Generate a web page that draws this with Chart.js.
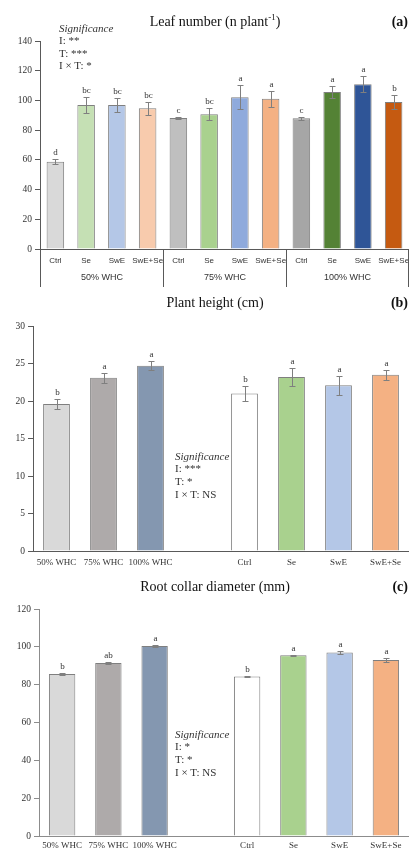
<!DOCTYPE html>
<html>
<head>
<meta charset="utf-8">
<script src="https://cdn.jsdelivr.net/npm/chart.js@4.4.1/dist/chart.umd.min.js"></script>
<style>
  html, body { margin:0; padding:0; background:#ffffff; }
  body { width:409px; height:849px; position:relative; overflow:hidden; }
  canvas { position:absolute; left:0; }
</style>
</head>
<body>
<canvas id="cA" width="409" height="290" style="top:0px"></canvas>
<canvas id="cB" width="409" height="280" style="top:290px"></canvas>
<canvas id="cC" width="409" height="279" style="top:570px"></canvas>
<script>
// ---------- DATA ----------
// Panel (a) Leaf number
const leafCategories = ['Ctrl','Se','SwE','SwE+Se','Ctrl','Se','SwE','SwE+Se','Ctrl','Se','SwE','SwE+Se'];
const leafGroups = ['50% WHC','75% WHC','100% WHC'];
const leafValues = [58.8, 97.0, 97.0, 94.7, 88.2, 90.7, 102.2, 101.2, 88.0, 105.7, 110.9, 99.0];
const leafErrors = [1.7, 5.6, 4.9, 4.3, 0.7, 4.0, 7.9, 5.4, 1.0, 4.0, 5.4, 4.7];
const leafLetters = ['d','bc','bc','bc','c','bc','a','a','c','a','a','b'];
const leafColors = ['#d9d9d9','#c5e0b4','#b4c7e7','#f8cbad','#bfbfbf','#a9d18e','#8faadc','#f4b183','#a6a6a6','#548235','#2f5597','#c55a11'];
const leafTicks = { min: 0, max: 140, step: 20 };
const leafSignificance = ['I: **', 'T: ***', 'I \u00d7 T: *'];

// Panels (b) and (c) share categories
const mainCategories = ['50% WHC','75% WHC','100% WHC','','Ctrl','Se','SwE','SwE+Se'];
const mainColors = ['#d9d9d9','#aeaaaa','#8497b0', null, '#ffffff','#a9d18e','#b4c7e7','#f4b183'];

// Panel (b) Plant height
const heightValues = [19.6, 23.1, 24.7, null, 21.0, 23.2, 22.1, 23.5];
const heightErrors = [0.7, 0.65, 0.6, null, 0.95, 1.2, 1.3, 0.65];
const heightLetters = ['b','a','a','','b','a','a','a'];
const heightTicks = { min: 0, max: 30, step: 5 };
const heightSignificance = ['I: ***', 'T: *', 'I \u00d7 T: NS'];

// Panel (c) Root collar diameter
const diameterValues = [85.6, 91.4, 100.4, null, 84.3, 95.6, 97.0, 93.1];
const diameterErrors = [0.4, 0.7, 0.4, null, 0.4, 0.3, 0.8, 1.0];
const diameterLetters = ['b','ab','a','','b','a','a','a'];
const diameterTicks = { min: 0, max: 120, step: 20 };
const diameterSignificance = ['I: *', 'T: *', 'I \u00d7 T: NS'];

// ---------- STYLE ----------
const SERIF = '"Liberation Serif", "Times New Roman", serif';
const SANS = '"Liberation Sans Narrow", "Liberation Sans", Arial, sans-serif';

// ---------- PLUGINS ----------
const errPlugin = {
  id: 'errs',
  afterDatasetsDraw(chart, args, o) {
    const ctx = chart.ctx, x = chart.scales.x, y = chart.scales.y;
    const vals = chart.data.datasets[0].data;
    ctx.save();
    vals.forEach((v, i) => {
      if (v == null) return;
      const e = o.errors[i];
      const px = Math.round(x.getPixelForValue(i)) + 0.5;
      const top = Math.round(y.getPixelForValue(v + e)) + 0.5;
      const bot = Math.round(y.getPixelForValue(v - e)) + 0.5;
      ctx.strokeStyle = o.color; ctx.lineWidth = 1;
      ctx.beginPath();
      ctx.moveTo(px, top); ctx.lineTo(px, bot);
      ctx.moveTo(px - 3, top); ctx.lineTo(px + 3, top);
      ctx.moveTo(px - 3, bot); ctx.lineTo(px + 3, bot);
      ctx.stroke();
      ctx.fillStyle = '#333333';
      ctx.font = '9px ' + SERIF;
      ctx.textAlign = 'center'; ctx.textBaseline = 'bottom';
      ctx.fillText(o.letters[i], px, top - 2);
    });
    ctx.restore();
  }
};

const annotPlugin = {
  id: 'annot',
  afterDraw(chart, args, o) {
    const ctx = chart.ctx;
    ctx.save();
    ctx.fillStyle = '#111111';
    ctx.textBaseline = 'middle';
    ctx.font = '14px ' + SERIF;
    const w1 = ctx.measureText(o.title).width;
    let wS = 0, w2 = 0;
    if (o.sup) {
      ctx.font = '9px ' + SERIF; wS = ctx.measureText(o.sup).width;
      ctx.font = '14px ' + SERIF; w2 = ctx.measureText(o.after).width;
    }
    let tx = o.titleX - (w1 + wS + w2) / 2;
    ctx.textAlign = 'left';
    ctx.fillText(o.title, tx, o.titleY);
    if (o.sup) {
      ctx.font = '9px ' + SERIF;
      ctx.fillText(o.sup, tx + w1, o.titleY - 4);
      ctx.font = '14px ' + SERIF;
      ctx.fillText(o.after, tx + w1 + wS, o.titleY);
    }
    ctx.font = 'bold 14px ' + SERIF;
    ctx.textAlign = 'right';
    ctx.fillText(o.tag, 408, o.titleY);
    ctx.textAlign = 'left';
    ctx.font = 'italic 11px ' + SERIF;
    ctx.fillStyle = '#333333';
    ctx.fillText('Significance', o.sigX, o.sigY);
    ctx.font = '11px ' + SERIF;
    o.lines.forEach((t, i) => ctx.fillText(t, o.sigX, o.sigY + o.sigStep * (i + 1)));
    ctx.restore();
  }
};

const groupPlugin = {
  id: 'groups',
  afterDraw(chart, args, o) {
    if (!o.groups) return;
    const ctx = chart.ctx, x = chart.scales.x;
    const n = o.size;
    const bottom = chart.chartArea.bottom;
    ctx.save();
    ctx.strokeStyle = '#595959'; ctx.lineWidth = 1;
    const edges = [];
    for (let g = 0; g <= o.groups.length; g++) {
      let px;
      if (g === 0) px = chart.chartArea.left;
      else if (g === o.groups.length) px = chart.chartArea.right - 1;
      else px = (x.getPixelForValue(g * n - 1) + x.getPixelForValue(g * n)) / 2;
      px = Math.round(px) + 0.5;
      edges.push(px);
      ctx.beginPath(); ctx.moveTo(px, bottom); ctx.lineTo(px, bottom + o.depth); ctx.stroke();
    }
    ctx.fillStyle = '#333333';
    ctx.font = '9px ' + SANS;
    ctx.textAlign = 'center'; ctx.textBaseline = 'middle';
    o.groups.forEach((t, g) => ctx.fillText(t, (edges[g] + edges[g + 1]) / 2, bottom + o.labelOffset));
    ctx.restore();
  }
};

function makeChart(id, cfg) {
  const ctx = document.getElementById(id);
  return new Chart(ctx, {
    type: 'bar',
    data: {
      labels: cfg.labels,
      datasets: [{
        data: cfg.values,
        backgroundColor: cfg.colors,
        borderColor: cfg.barBorder,
        borderWidth: 1,
        barPercentage: 0.57,
        categoryPercentage: 1.0
      }]
    },
    options: {
      responsive: false,
      animation: false,
      devicePixelRatio: 1,
      layout: { padding: { top: cfg.padTop, left: 0, right: 0, bottom: 0 } },
      plugins: {
        legend: { display: false },
        tooltip: { enabled: false },
        title: { display: false },
        errs: { errors: cfg.errors, letters: cfg.letters, color: '#7f7f7f' },
        annot: cfg.annot,
        groups: cfg.groups || {}
      },
      scales: {
        x: {
          offset: true,
          grid: { drawOnChartArea: false, drawTicks: false },
          border: { color: cfg.axisColor, width: 1 },
          ticks: { autoSkip: false, maxRotation: 0, minRotation: 0, color: '#333333',
                   font: { family: cfg.xFont, size: cfg.xSize }, padding: cfg.xPad },
          afterFit(s) { s.height = cfg.xHeight; s.paddingLeft = 0; s.paddingRight = 0; }
        },
        y: {
          min: cfg.ticks.min, max: cfg.ticks.max,
          grid: { drawOnChartArea: false, drawTicks: true, tickLength: 5, tickColor: cfg.axisColor },
          border: { color: cfg.axisColor, width: 1 },
          ticks: { stepSize: cfg.ticks.step, color: '#333333', padding: 3,
                   font: { family: SERIF, size: 9.5 } },
          afterFit(s) { s.width = cfg.yWidth; }
        }
      }
    },
    plugins: [errPlugin, annotPlugin, groupPlugin]
  });
}

makeChart('cA', {
  labels: leafCategories, values: leafValues, errors: leafErrors, letters: leafLetters,
  colors: leafColors, barBorder: '#7f7f7f', ticks: leafTicks, axisColor: '#595959',
  padTop: 41, yWidth: 40, xHeight: 41, xFont: SANS, xSize: 8, xPad: 7,
  annot: { title: 'Leaf number (n plant', sup: '-1', after: ')', tag: '(a)', titleX: 215, titleY: 22,
           sigX: 59, sigY: 29, sigStep: 12.5, lines: leafSignificance },
  groups: { groups: leafGroups, size: 4, depth: 38, labelOffset: 29 }
});

makeChart('cB', {
  labels: mainCategories, values: heightValues, errors: heightErrors, letters: heightLetters,
  colors: mainColors, barBorder: '#7f7f7f', ticks: heightTicks, axisColor: '#595959',
  padTop: 36, yWidth: 33, xHeight: 19, xFont: SERIF, xSize: 9, xPad: 6,
  annot: { title: 'Plant height (cm)', tag: '(b)', titleX: 215, titleY: 13,
           sigX: 175, sigY: 167, sigStep: 12.6, lines: heightSignificance }
});

makeChart('cC', {
  labels: mainCategories, values: diameterValues, errors: diameterErrors, letters: diameterLetters,
  colors: mainColors, barBorder: '#7f7f7f', ticks: diameterTicks, axisColor: '#8c8c8c',
  padTop: 39, yWidth: 39, xHeight: 13, xFont: SERIF, xSize: 9, xPad: 4,
  annot: { title: 'Root collar diameter (mm)', tag: '(c)', titleX: 215, titleY: 17,
           sigX: 175, sigY: 165, sigStep: 12.6, lines: diameterSignificance }
});
</script>
</body>
</html>
